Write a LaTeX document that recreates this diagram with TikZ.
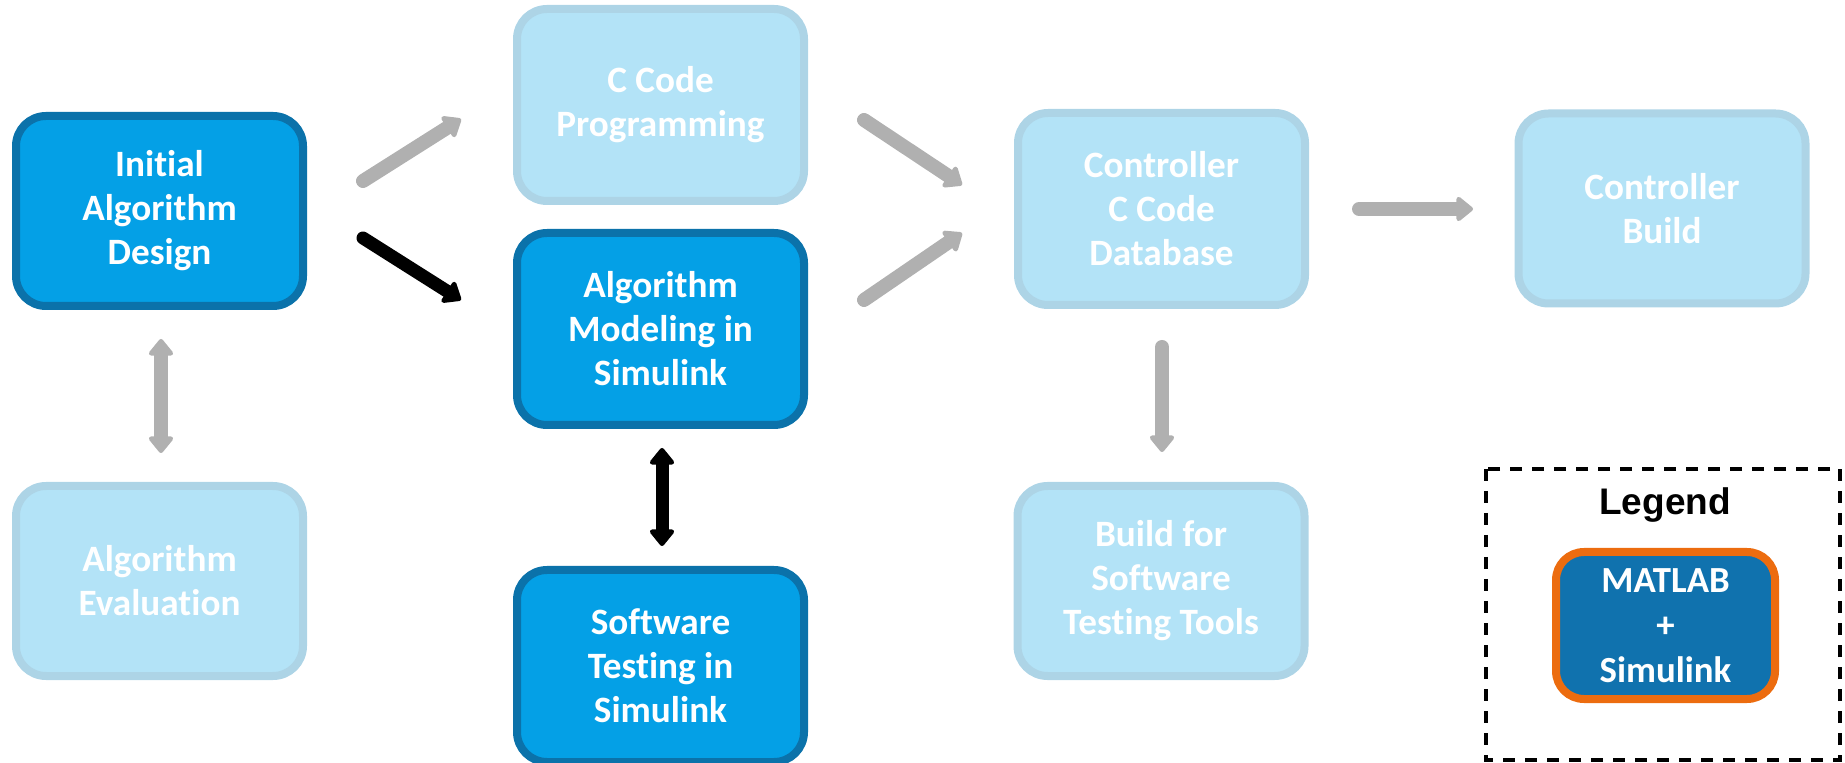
\documentclass[tikz,border=0pt]{standalone}
\usepackage{fontspec}
\setmainfont{Carlito}[Ligatures=NoCommon]
\newfontfamily\legendfont{Liberation Sans}
\usetikzlibrary{arrows.meta}
\definecolor{darkfill}{HTML}{04A0E6}
\definecolor{darkborder}{HTML}{0B72AA}
\definecolor{lightfill}{HTML}{B3E3F7}
\definecolor{lightborder}{HTML}{ADD4E6}
\definecolor{arrowgray}{HTML}{B0B0B0}
\definecolor{legendfill}{HTML}{1072AE}
\definecolor{legendorange}{HTML}{EC6C0F}
\tikzset{
  box/.style={rounded corners=15pt, line width=4pt, minimum width=143.5pt,
    minimum height=96pt, align=center, text=white,
    font=\bfseries\fontsize{18.6}{22}\selectfont},
  darkbox/.style={box, fill=darkfill, draw=darkborder},
  lightbox/.style={box, fill=lightfill, draw=lightborder},
  grayarrow/.style={draw=arrowgray, line width=7pt, line cap=round,
    -{Triangle[length=9pt, width=14pt, round]}},
  blackarrow/.style={draw=black, line width=6.5pt, line cap=round,
    -{Triangle[length=9pt, width=14pt, round]}},
  graydouble/.style={draw=arrowgray, line width=7pt,
    {Triangle[length=9pt, width=14pt, round]}-{Triangle[length=9pt, width=14pt, round]}},
  blackdouble/.style={draw=black, line width=6.5pt,
    {Triangle[length=9pt, width=14pt, round]}-{Triangle[length=9pt, width=14pt, round]}},
}
\begin{document}
\begin{tikzpicture}[x=0.5pt, y=-0.5pt]
\useasboundingbox (0,0) rectangle (1845,763);

\node[darkbox, minimum height=95pt] (init) at (159.5,211) {Initial\\Algorithm\\Design};
\node[lightbox] (ccode) at (660.5,105) {C Code\\Programming};
\node[darkbox] (model) at (660.5,329) {Algorithm\\Modeling in\\Simulink};
\node[lightbox] (db) at (1161.5,209) {Controller\\C Code\\Database};
\node[lightbox, minimum height=95pt] (build) at (1662,208.5) {Controller\\Build};
\node[lightbox, minimum height=95pt] (eval) at (159.5,581) {Algorithm\\Evaluation};
\node[darkbox] (test) at (660.5,666) {Software\\Testing in\\Simulink};
\node[lightbox, minimum height=95pt] (bst) at (1161,581) {Build for\\Software\\Testing Tools};

% arrow end points
\coordinate (a1s) at (363,181); \coordinate (a1e) at (461,119);
\coordinate (a2s) at (363,238); \coordinate (a2e) at (461,300);
\coordinate (a3s) at (864,120); \coordinate (a3e) at (962,185);
\coordinate (a4s) at (864,300); \coordinate (a4e) at (962,233);
\coordinate (a5s) at (1359,209); \coordinate (a5e) at (1473,209);
\coordinate (a6s) at (1162,347); \coordinate (a6e) at (1162,452);
\coordinate (a7s) at (161,339); \coordinate (a7e) at (161,453);
\coordinate (a8s) at (662,448); \coordinate (a8e) at (662,546);

\draw[grayarrow] (a1s) -- (a1e);
\draw[blackarrow] (a2s) -- (a2e);
\draw[grayarrow] (a3s) -- (a3e);
\draw[grayarrow] (a4s) -- (a4e);
\draw[grayarrow] (a5s) -- (a5e);
\draw[grayarrow] (a6s) -- (a6e);
\draw[graydouble] (a7s) -- (a7e);
\draw[blackdouble] (a8s) -- (a8e);

% legend
\draw[line width=1.8pt, dash pattern=on 6pt off 5pt] (1486,469) rectangle (1840,760);
\node[font=\legendfont\bfseries\fontsize{18.5}{22}\selectfont] (legtitle) at (1665,505) {Legend};
\node[rounded corners=14pt, line width=4pt, fill=legendfill, draw=legendorange,
  minimum width=109.5pt, minimum height=73.5pt, align=center, text=white,
  font=\bfseries\fontsize{18.4}{22.5}\selectfont] (legbox) at (1665.5,625.5) {MATLAB\\+\\Simulink};
\end{tikzpicture}
\end{document}
